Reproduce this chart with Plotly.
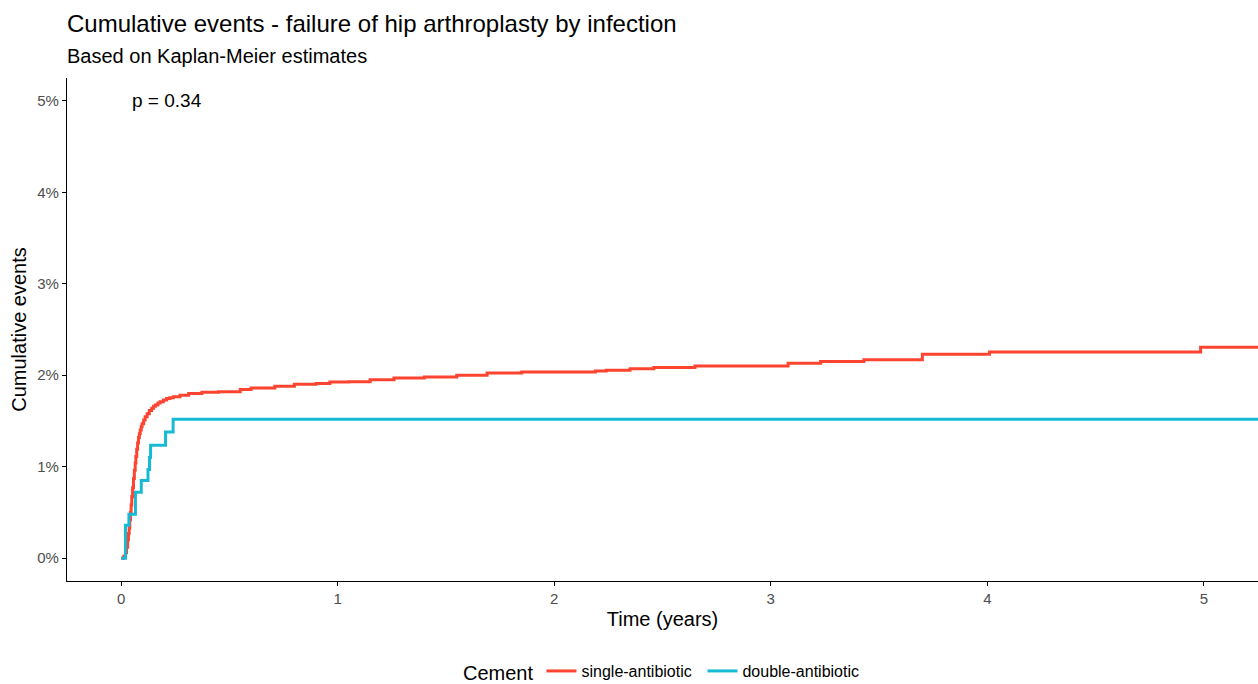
import plotly.graph_objects as go

# ---- data ----
single_time = [0.0, 0.012, 0.02, 0.025, 0.03, 0.034, 0.037, 0.04, 0.043, 0.046, 0.049, 0.053,
               0.057, 0.061, 0.065, 0.068, 0.072, 0.076, 0.08, 0.084, 0.088, 0.093, 0.097, 0.104,
               0.111, 0.12, 0.13, 0.141, 0.15, 0.158, 0.17, 0.18, 0.195, 0.21, 0.225, 0.241,
               0.272, 0.312, 0.373, 0.45, 0.55, 0.6, 0.71, 0.8, 0.9, 0.964, 1.05, 1.15, 1.26,
               1.4, 1.55, 1.69, 1.85, 2.19, 2.24, 2.35, 2.46, 2.65, 3.08, 3.23, 3.43, 3.70,
               4.01, 4.985, 5.3]
single_cum = [0.0, 0.02, 0.06, 0.12, 0.2, 0.27, 0.33, 0.42, 0.5, 0.58, 0.67, 0.77,
              0.87, 0.96, 1.04, 1.11, 1.19, 1.26, 1.32, 1.36, 1.40, 1.44, 1.47, 1.51,
              1.545, 1.58, 1.615, 1.64, 1.66, 1.675, 1.695, 1.71, 1.73, 1.745, 1.755, 1.765,
              1.78, 1.80, 1.815, 1.82, 1.845, 1.86, 1.88, 1.90, 1.91, 1.925, 1.93, 1.95, 1.97,
              1.98, 2.00, 2.025, 2.035, 2.045, 2.055, 2.07, 2.085, 2.10, 2.13, 2.15, 2.17, 2.23,
              2.255, 2.305, 2.305]

double_time = [0.0, 0.02, 0.036, 0.066, 0.093, 0.124, 0.131, 0.136, 0.205, 0.24, 5.3]
double_cum = [0.0, 0.36, 0.48, 0.72, 0.85, 0.97, 1.10, 1.235, 1.38, 1.52, 1.52]

x_ticks = [0, 1, 2, 3, 4, 5]
y_ticks = [0, 1, 2, 3, 4, 5]
y_tick_labels = ["0%", "1%", "2%", "3%", "4%", "5%"]

series_names = ["single-antibiotic", "double-antibiotic"]
p_value_text = "p = 0.34"
title_text = "Cumulative events - failure of hip arthroplasty by infection"
subtitle_text = "Based on Kaplan-Meier estimates"

FONT = "Liberation Sans, Arial, sans-serif"
RED = "#FC4430"
BLUE = "#17BAD5"

fig = go.Figure()
fig.add_trace(go.Scatter(x=single_time, y=single_cum, mode="lines", name=series_names[0],
                         line=dict(color=RED, width=3, shape="hv")))
fig.add_trace(go.Scatter(x=double_time, y=double_cum, mode="lines", name=series_names[1],
                         line=dict(color=BLUE, width=3, shape="hv")))

fig.add_annotation(x=0.04, y=5, xref="x", yref="y", text=p_value_text, showarrow=False,
                   xanchor="left", yanchor="middle", font=dict(family=FONT, size=19, color="black"))

# title and subtitle placed above the plot area (paper coordinates)
fig.add_annotation(x=0, y=1.109, xref="paper", yref="paper", text=title_text, showarrow=False,
                   xanchor="left", yanchor="middle", xshift=-2,
                   font=dict(family=FONT, size=24, color="black"))
fig.add_annotation(x=0, y=1.044, xref="paper", yref="paper", text=subtitle_text, showarrow=False,
                   xanchor="left", yanchor="middle", xshift=-2,
                   font=dict(family=FONT, size=20, color="black"))

fig.update_layout(
    width=1258, height=684,
    margin=dict(l=67, r=0, t=78, b=103, autoexpand=False),
    paper_bgcolor="white", plot_bgcolor="white",
    font=dict(family=FONT, color="black"),
    xaxis=dict(
        range=[-0.25, 5.25], tickvals=x_ticks, showgrid=False, zeroline=False,
        showline=True, linecolor="black", linewidth=1.3,
        ticks="outside", ticklen=4, tickcolor="black", tickwidth=1.1,
        tickfont=dict(family=FONT, size=15, color="#4D4D4D"),
        title=dict(text="Time (years)", font=dict(family=FONT, size=20, color="black"), standoff=5),
    ),
    yaxis=dict(
        range=[-0.25, 5.25], tickvals=y_ticks, ticktext=y_tick_labels, showgrid=False, zeroline=False,
        showline=True, linecolor="black", linewidth=1.3,
        ticks="outside", ticklen=4, tickcolor="black", tickwidth=1.1,
        tickfont=dict(family=FONT, size=15, color="#4D4D4D"),
        title=dict(text="Cumulative events", font=dict(family=FONT, size=20, color="black"), standoff=5),
    ),
    legend=dict(
        orientation="h", x=(461 - 67) / 1191, xanchor="left", y=-0.181, yanchor="middle",
        title=dict(text="Cement", side="left", font=dict(family=FONT, size=20, color="black")),
        font=dict(family=FONT, size=16, color="black"),
        itemwidth=30, entrywidth=116,
    ),
    showlegend=True,
)

# remove the default 8px page margin so the figure sits at the window's top-left corner
fig.write_html("out.html", config={"displayModeBar": False},
               post_script="document.body.style.margin='0';document.body.style.overflow='hidden';")
